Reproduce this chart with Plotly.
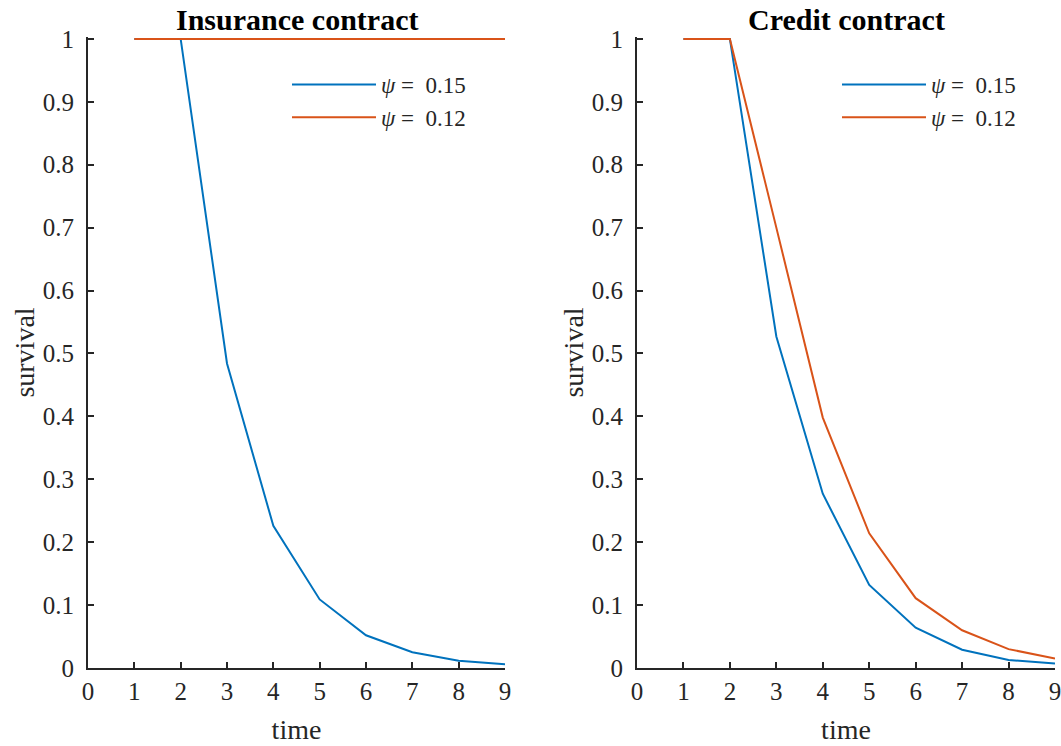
import plotly.graph_objects as go

time = [1, 2, 3, 4, 5, 6, 7, 8, 9]
ins_psi015 = [1.0, 1.0, 0.484, 0.226, 0.109, 0.052, 0.025, 0.0116, 0.0059]
ins_psi012 = [1.0, 1.0, 1.0, 1.0, 1.0, 1.0, 1.0, 1.0, 1.0]
cred_psi015 = [1.0, 1.0, 0.527, 0.277, 0.132, 0.064, 0.029, 0.0127, 0.007]
cred_psi012 = [1.0, 1.0, 0.70, 0.398, 0.214, 0.111, 0.060, 0.030, 0.015]
x_ticks = [0, 1, 2, 3, 4, 5, 6, 7, 8, 9]
y_ticks = [0, 0.1, 0.2, 0.3, 0.4, 0.5, 0.6, 0.7, 0.8, 0.9, 1]
y_ticktext = ["0", "0.1", "0.2", "0.3", "0.4", "0.5", "0.6", "0.7", "0.8", "0.9", "1"]
titles = ["Insurance contract", "Credit contract"]
labels = ["<i>ψ</i> =  0.15", "<i>ψ</i> =  0.12"]

BLUE = "#0072BD"
ORANGE = "#D95319"
AX = "#262626"
FONT = "Liberation Serif"
W, H = 1061, 746

fig = go.Figure()
fig.add_trace(go.Scatter(x=time, y=ins_psi015, mode="lines", line=dict(color=BLUE, width=2),
                         name=labels[0], xaxis="x", yaxis="y", legend="legend"))
fig.add_trace(go.Scatter(x=time, y=ins_psi012, mode="lines", line=dict(color=ORANGE, width=2),
                         name=labels[1], xaxis="x", yaxis="y", legend="legend"))
fig.add_trace(go.Scatter(x=time, y=cred_psi015, mode="lines", line=dict(color=BLUE, width=2),
                         name=labels[0], xaxis="x2", yaxis="y2", legend="legend2"))
fig.add_trace(go.Scatter(x=time, y=cred_psi012, mode="lines", line=dict(color=ORANGE, width=2),
                         name=labels[1], xaxis="x2", yaxis="y2", legend="legend2"))

dx1 = [88 / W, 505 / W]
dx2 = [637 / W, 1055 / W]
dy = [1 - 668 / H, 1 - 37 / H]

def xax(domain, anchor):
    return dict(domain=domain, anchor=anchor, range=[0, 9], tickmode="array", tickvals=x_ticks,
                ticks="inside", ticklen=6, tickwidth=1.5, tickcolor=AX, showline=True,
                linecolor=AX, linewidth=2, showgrid=False, zeroline=False, automargin=False,
                ticklabeloverflow="allow",
                tickfont=dict(family=FONT, size=25, color=AX),
                title=dict(text="time", font=dict(family=FONT, size=28, color=AX), standoff=15))

def yax(domain, anchor):
    return dict(domain=domain, anchor=anchor, range=[0, 1.003], tickmode="array", tickvals=y_ticks,
                ticktext=y_ticktext, ticks="inside", ticklen=6, tickwidth=1.5, tickcolor=AX,
                showline=True, linecolor=AX, linewidth=2, showgrid=False, zeroline=False,
                automargin=False, ticklabelstandoff=7, ticklabeloverflow="allow",
                tickfont=dict(family=FONT, size=25, color=AX),
                title=dict(text="survival", font=dict(family=FONT, size=28, color=AX), standoff=0))

legend_style = dict(font=dict(family=FONT, size=23, color=AX), bgcolor="rgba(0,0,0,0)",
                    xanchor="left", yanchor="top", tracegroupgap=0, itemwidth=84)

fig.update_layout(
    width=W, height=H,
    margin=dict(l=0, r=0, t=0, b=0, autoexpand=False),
    paper_bgcolor="white", plot_bgcolor="white",
    showlegend=True,
    xaxis=xax(dx1, "y"), yaxis=yax(dy, "x"),
    xaxis2=xax(dx2, "y2"), yaxis2=yax(dy, "x2"),
    legend=dict(x=287 / W, y=1 - 63 / H, **legend_style),
    legend2=dict(x=837 / W, y=1 - 63 / H, **legend_style),
    annotations=[
        dict(text="<b>" + titles[0] + "</b>", x=(dx1[0] + dx1[1]) / 2, y=1 - 19 / H,
             xref="paper", yref="paper", showarrow=False, xanchor="center",
             font=dict(family=FONT, size=30, color="black"), yanchor="middle"),
        dict(text="<b>" + titles[1] + "</b>", x=(dx2[0] + dx2[1]) / 2, y=1 - 19 / H,
             xref="paper", yref="paper", showarrow=False, xanchor="center",
             font=dict(family=FONT, size=30, color="black"), yanchor="middle"),
    ],
)

fig.write_html("out.html", config={"displayModeBar": False},
               post_script="document.body.style.margin='0px';")
